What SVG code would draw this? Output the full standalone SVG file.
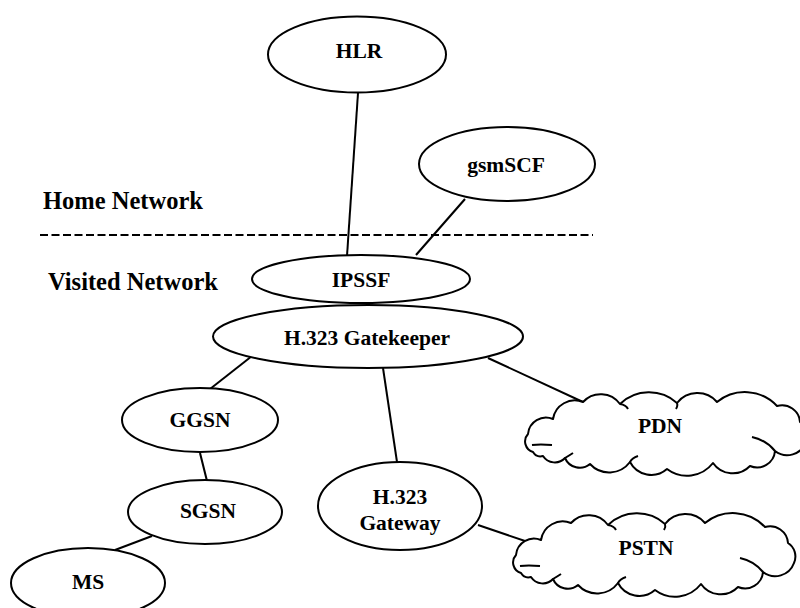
<svg xmlns="http://www.w3.org/2000/svg" width="800" height="608" viewBox="0 0 800 608">
<style>
.n{fill:#fff;stroke:#000;stroke-width:2}
.c{fill:none;stroke:#000;stroke-width:2}
.t{font-family:"Liberation Serif","Times New Roman",serif;font-weight:bold;font-size:21.5px;text-anchor:middle;fill:#000}
.h{font-family:"Liberation Serif","Times New Roman",serif;font-weight:bold;font-size:24.5px;fill:#000}
.cl{fill:#fff;stroke:#000;stroke-width:2;stroke-linejoin:round}
.ci{fill:none;stroke:#000;stroke-width:2}
</style>
<defs>
<path id="cloud" d="M533,452 A11,11 0 0 1 528,434 A18,18 0 0 1 553,419 A22,22 0 0 1 583,402 A24,24 0 0 1 620,404 A42,42 0 0 1 677,403 A26,26 0 0 1 717,402 A44,44 0 0 1 777,406 A18,18 0 0 1 800,422 A16,16 0 0 1 806,442 A20,20 0 0 1 775,451 A18,18 0 0 1 750,466 A24,24 0 0 1 713,463 A33,33 0 0 1 667,469 A24,24 0 0 1 630,462 A26,26 0 0 1 590,464 A16,16 0 0 1 565,458 A14,14 0 0 1 543,456 A9,9 0 0 1 533,452 Z"/>
<path id="cloudin" d="M620,404 Q626,405 628,409 M677,403 Q678,406 676,409 M752,437 Q766,440 775,451 M532,445 Q540,444 552,445 M630,462 Q632,458 638,456 M565,458 Q570,455 573,453"/>
</defs>
<g id="connectors">
<line class="c" x1="358" y1="93" x2="347" y2="256"/>
<line class="c" x1="465" y1="199" x2="416" y2="255"/>
<line class="c" x1="252" y1="356" x2="210" y2="389"/>
<line class="c" x1="383" y1="368" x2="397" y2="462"/>
<line class="c" x1="488" y1="358" x2="583" y2="402"/>
<line class="c" x1="200" y1="453" x2="207" y2="481"/>
<line class="c" x1="152" y1="536" x2="115" y2="550"/>
<line class="c" x1="478" y1="525" x2="531" y2="543"/>
</g>
<g id="divider">
<line x1="40" y1="235" x2="593" y2="235" stroke="#000" stroke-width="2" stroke-dasharray="8 3.5"/>
<text class="h" x="43" y="209">Home Network</text>
<text class="h" x="48" y="290">Visited Network</text>
</g>
<g id="hlr"><ellipse class="n" cx="357" cy="54.5" rx="89" ry="38"/><text class="t" x="359" y="58">HLR</text></g>
<g id="gsmscf"><ellipse class="n" cx="507" cy="164" rx="88" ry="37"/><text class="t" x="506" y="172">gsmSCF</text></g>
<g id="gatekeeper"><ellipse class="n" cx="368" cy="336.5" rx="155" ry="31.5"/><text class="t" x="367" y="345">H.323 Gatekeeper</text></g>
<g id="ipssf"><ellipse class="n" cx="361" cy="279" rx="109" ry="24"/><text class="t" x="361" y="287">IPSSF</text></g>
<g id="ggsn"><ellipse class="n" cx="200" cy="420" rx="78" ry="32"/><text class="t" x="200" y="427">GGSN</text></g>
<g id="sgsn"><ellipse class="n" cx="205" cy="512" rx="77" ry="32"/><text class="t" x="208" y="518">SGSN</text></g>
<g id="ms"><ellipse class="n" cx="88" cy="583" rx="77" ry="35"/><text class="t" x="88" y="589">MS</text></g>
<g id="gateway"><ellipse class="n" cx="400" cy="506" rx="82" ry="44"/><text class="t" x="400" y="504">H.323</text><text class="t" x="400" y="530">Gateway</text></g>
<g id="pdn"><use href="#cloud" class="cl"/><use href="#cloudin" class="ci"/><text class="t" x="660" y="433">PDN</text></g>
<g id="pstn"><g transform="translate(-12,121)"><use href="#cloud" class="cl"/><use href="#cloudin" class="ci"/></g><text class="t" x="646" y="555">PSTN</text></g>
</svg>
